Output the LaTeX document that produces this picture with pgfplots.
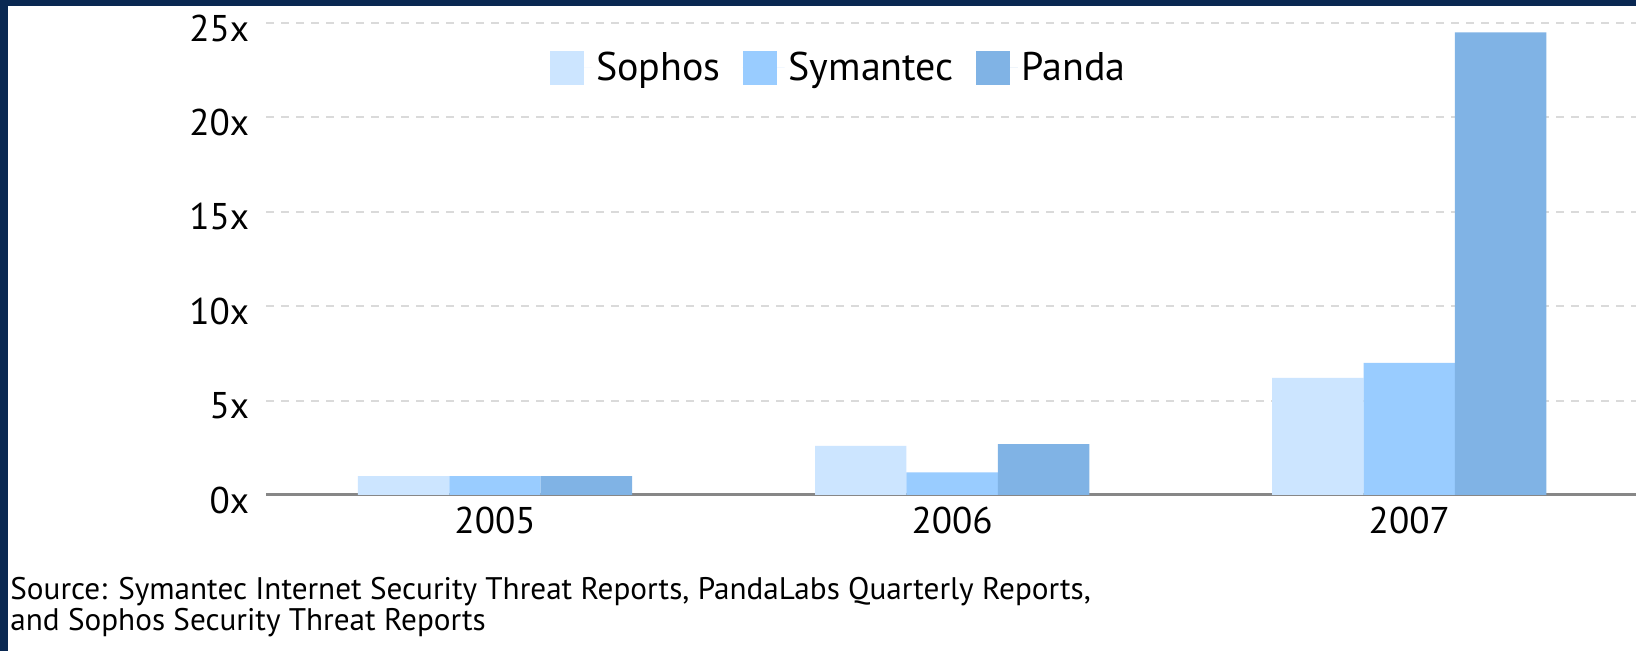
\documentclass[border=0pt]{standalone}
\usepackage{pgfplots}
\pgfplotsset{compat=1.18}
\usepackage{fontspec}
\setmainfont{PT Sans}
\definecolor{navy}{RGB}{10,40,82}
\definecolor{sophos}{RGB}{204,229,255}
\definecolor{symantec}{RGB}{153,204,255}
\definecolor{panda}{RGB}{128,179,229}
\definecolor{gridgray}{RGB}{218,218,218}
\definecolor{axisgray}{RGB}{135,135,135}
\begin{document}
\begin{tikzpicture}
% page: 1636 x 651 px, 1 px = 0.5 bp
\useasboundingbox (0,0) rectangle (818bp,325.5bp);
\fill[white] (0,0) rectangle (818bp,325.5bp);
\fill[navy] (0,0) rectangle (4.2bp,325.5bp);
\fill[navy] (0,322.5bp) rectangle (818bp,325.5bp);
\begin{axis}[
    at={(133bp,78bp)}, anchor=south west,
    scale only axis,
    width=685bp, height=236bp,
    ybar, ybar=0pt, bar width=0.2,
    xmin=-0.501, xmax=2.496,
    ymin=0, ymax=25,
    xtick={0,1,2},
    xticklabels={2005,2006,2007},
    ytick={0,5,10,15,20,25},
    yticklabels={0x,5x,10x,15x,20x,25x},
    tick style={draw=none},
    major tick length=0pt,
    ticklabel style={font=\fontsize{18.6bp}{22bp}\selectfont, text=black},
    yticklabel style={xshift=-5bp, yshift=-2.5bp},
    xticklabel style={yshift=-2.5bp},
    axis x line*=bottom,
    axis y line*=left,
    y axis line style={draw=none},
    x axis line style={axisgray, line width=1.5bp, -},
    ymajorgrids=true,
    grid style={gridgray, line width=1bp, dash pattern=on 4bp off 3.5bp},
    legend columns=-1,
    legend style={at={(0.419,0.905)}, anchor=center, draw=none, fill=none,
        font=\fontsize{20bp}{24bp}\selectfont,
        /tikz/every even column/.append style={column sep=9bp}},
    legend image code/.code={\fill[#1,draw=none] (0bp,-8.5bp) rectangle (17bp,8.5bp);
        \path (0bp,0bp) -- (21bp,0bp);},
]
\addplot[fill=sophos, draw=none] coordinates {(0,1.0) (1,2.6) (2,6.2)};
\addplot[fill=symantec, draw=none] coordinates {(0,1.0) (1,1.2) (2,7.0)};
\addplot[fill=panda, draw=none] coordinates {(0,1.0) (1,2.7) (2,24.5)};
\legend{Sophos,Symantec,Panda}
\end{axis}
\begin{scope}[font=\fontsize{15.6bp}{18bp}\selectfont]
\node[anchor=base west, inner sep=0pt] at (5bp,26bp) {Source: Symantec Internet Security Threat Reports, PandaLabs Quarterly Reports,};
\node[anchor=base west, inner sep=0pt] at (5bp,10.5bp) {and Sophos Security Threat Reports};
\end{scope}
\end{tikzpicture}
\end{document}
